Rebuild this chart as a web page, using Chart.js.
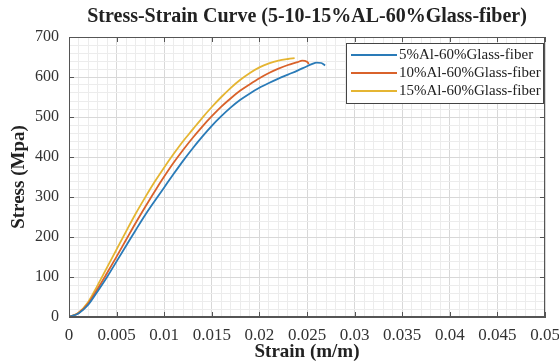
<!DOCTYPE html>
<html lang="en">

<head>
    <meta charset="UTF-8">
    <script src="https://cdn.jsdelivr.net/npm/chart.js@4.4.0/dist/chart.umd.min.js"></script>
    <title>Stress-Strain Curve</title>
    <style>
        body { margin: 0; background: #fff; }
        canvas { display: block; }
    </style>
</head>

<body>
    <canvas id="chart1" width="559" height="364"></canvas>

    <script>
        const chartTitle = 'Stress-Strain Curve (5-10-15%AL-60%Glass-fiber)';
        const seriesLabels = ['5%Al-60%Glass-fiber', '10%Al-60%Glass-fiber', '15%Al-60%Glass-fiber'];
        const seriesColors = ['#2a7bb8', '#d9622b', '#e5b532'];

        const strain5 = [0, 0.001, 0.002, 0.003, 0.004, 0.005, 0.006, 0.007, 0.008, 0.009, 0.010, 0.011, 0.012, 0.013,
            0.014, 0.015, 0.016, 0.017, 0.018, 0.019, 0.020, 0.021, 0.022, 0.023, 0.024, 0.025, 0.0255, 0.026, 0.0265, 0.0269];
        const stress5 = [0, 9, 30, 64, 100, 139, 178, 217, 255, 290, 324, 358, 391, 422,
            451, 478, 502, 524, 543, 559, 573, 585, 596, 606, 616, 627, 632, 636, 635, 629];

        const strain10 = [0, 0.001, 0.002, 0.003, 0.004, 0.005, 0.006, 0.007, 0.008, 0.009, 0.010, 0.011, 0.012, 0.013,
            0.014, 0.015, 0.016, 0.017, 0.018, 0.019, 0.020, 0.021, 0.022, 0.023, 0.024, 0.0245, 0.025, 0.0252];
        const stress10 = [0, 10, 33, 70, 110, 151, 193, 235, 275, 314, 351, 386, 418, 448,
            476, 502, 526, 547, 566, 582, 597, 610, 621, 630, 637, 641, 638, 633];

        const strain15 = [0, 0.001, 0.002, 0.003, 0.004, 0.005, 0.006, 0.007, 0.008, 0.009, 0.010, 0.011, 0.012, 0.013,
            0.014, 0.015, 0.016, 0.017, 0.018, 0.019, 0.020, 0.021, 0.022, 0.023, 0.0237];
        const stress15 = [0, 11, 37, 79, 124, 169, 214, 258, 299, 338, 374, 408, 440, 469,
            498, 525, 550, 573, 593, 610, 624, 634, 641, 645, 647];

        const xTickLabels = ['0', '0.005', '0.01', '0.015', '0.02', '0.025', '0.03', '0.035', '0.04', '0.045', '0.05'];
        const yTickLabels = ['0', '100', '200', '300', '400', '500', '600', '700'];

        const serif = '"Liberation Serif", "Times New Roman", serif';

        function toPoints(xs, ys) {
            return xs.map((x, i) => ({ x: x, y: ys[i] }));
        }

        function xMajor(v) { return Math.round(v * 1000) % 5 === 0; }
        function yMajor(v) { return Math.round(v) % 100 === 0; }

        // MATLAB style box, inward ticks, title and legend
        const matlabFrame = {
            id: 'matlabFrame',
            afterDraw(chart) {
                const ctx = chart.ctx;
                const a = chart.chartArea;
                const xs = chart.scales.x;
                const ys = chart.scales.y;
                ctx.save();
                ctx.strokeStyle = '#555';
                ctx.lineWidth = 1;
                ctx.strokeRect(a.left + 0.5, a.top + 0.5, a.right - a.left - 1, a.bottom - a.top - 1);
                ctx.beginPath();
                xs.ticks.forEach(t => {
                    if (!xMajor(t.value)) return;
                    const px = Math.round(xs.getPixelForValue(t.value)) + 0.5;
                    ctx.moveTo(px, a.bottom); ctx.lineTo(px, a.bottom - 5);
                    ctx.moveTo(px, a.top); ctx.lineTo(px, a.top + 5);
                });
                ys.ticks.forEach(t => {
                    if (!yMajor(t.value)) return;
                    const py = Math.round(ys.getPixelForValue(t.value)) + 0.5;
                    ctx.moveTo(a.left, py); ctx.lineTo(a.left + 5, py);
                    ctx.moveTo(a.right, py); ctx.lineTo(a.right - 5, py);
                });
                ctx.stroke();

                // title
                ctx.fillStyle = '#222';
                ctx.font = 'bold 20px ' + serif;
                ctx.textAlign = 'center';
                ctx.textBaseline = 'middle';
                ctx.fillText(chartTitle, (a.left + a.right) / 2, 17);

                // legend
                const bx = 346, by = 43, bw = 197, bh = 60;
                ctx.fillStyle = '#fff';
                ctx.fillRect(bx, by, bw, bh);
                ctx.strokeStyle = '#444';
                ctx.strokeRect(bx + 0.5, by + 0.5, bw, bh);
                ctx.font = '15px ' + serif;
                ctx.textAlign = 'left';
                chart.data.datasets.forEach((ds, i) => {
                    const ry = by + 12 + i * 18;
                    ctx.strokeStyle = ds.borderColor;
                    ctx.lineWidth = 2;
                    ctx.beginPath();
                    ctx.moveTo(bx + 5, ry); ctx.lineTo(bx + 51, ry);
                    ctx.stroke();
                    ctx.fillStyle = '#222';
                    ctx.fillText(ds.label, bx + 53, ry);
                });
                ctx.restore();
            }
        };

        const ctx1 = document.getElementById('chart1').getContext('2d');
        const myChart1 = new Chart(ctx1, {
            type: 'scatter',
            data: {
                datasets: [{
                    label: seriesLabels[0],
                    data: toPoints(strain5, stress5),
                    borderColor: seriesColors[0],
                    backgroundColor: seriesColors[0],
                    showLine: true,
                    borderWidth: 1.8,
                    pointRadius: 0,
                    cubicInterpolationMode: 'monotone'
                }, {
                    label: seriesLabels[1],
                    data: toPoints(strain10, stress10),
                    borderColor: seriesColors[1],
                    backgroundColor: seriesColors[1],
                    showLine: true,
                    borderWidth: 1.8,
                    pointRadius: 0,
                    cubicInterpolationMode: 'monotone'
                }, {
                    label: seriesLabels[2],
                    data: toPoints(strain15, stress15),
                    borderColor: seriesColors[2],
                    backgroundColor: seriesColors[2],
                    showLine: true,
                    borderWidth: 1.8,
                    pointRadius: 0,
                    cubicInterpolationMode: 'monotone'
                }]
            },
            options: {
                responsive: false,
                animation: false,
                layout: { padding: { top: 37, right: 14, left: 0, bottom: 0 } },
                plugins: {
                    legend: { display: false },
                    tooltip: { enabled: false }
                },
                scales: {
                    x: {
                        type: 'linear',
                        min: 0,
                        max: 0.05,
                        afterFit(s) { s.height = 47; s.paddingLeft = 0; s.paddingRight = 0; },
                        ticks: {
                            stepSize: 0.001,
                            autoSkip: false,
                            maxRotation: 0,
                            padding: 8,
                            color: '#333',
                            font: { family: serif, size: 17 },
                            callback: v => xMajor(v) ? xTickLabels[Math.round(v * 1000) / 5] : ''
                        },
                        grid: {
                            drawTicks: false,
                            color: c => (c.tick && xMajor(c.tick.value)) ? '#d8d8d8' : '#ececec'
                        },
                        border: { color: '#555' },
                        title: {
                            display: true,
                            text: 'Strain (m/m)',
                            color: '#222',
                            padding: { top: 0, bottom: 1 },
                            font: { family: serif, size: 19, weight: 'bold' }
                        }
                    },
                    y: {
                        min: 0,
                        max: 700,
                        afterFit(s) { s.width = 69; s.paddingTop = 0; s.paddingBottom = 0; },
                        ticks: {
                            stepSize: 20,
                            autoSkip: false,
                            padding: 10,
                            color: '#333',
                            font: { family: serif, size: 16 },
                            callback: v => yMajor(v) ? yTickLabels[Math.round(v / 100)] : ''
                        },
                        grid: {
                            drawTicks: false,
                            color: c => (c.tick && yMajor(c.tick.value)) ? '#d8d8d8' : '#ececec'
                        },
                        border: { color: '#555' },
                        title: {
                            display: true,
                            text: 'Stress (Mpa)',
                            color: '#222',
                            padding: { top: 8, bottom: 0 },
                            font: { family: serif, size: 19, weight: 'bold' }
                        }
                    }
                }
            },
            plugins: [matlabFrame]
        });
    </script>
</body>

</html>
